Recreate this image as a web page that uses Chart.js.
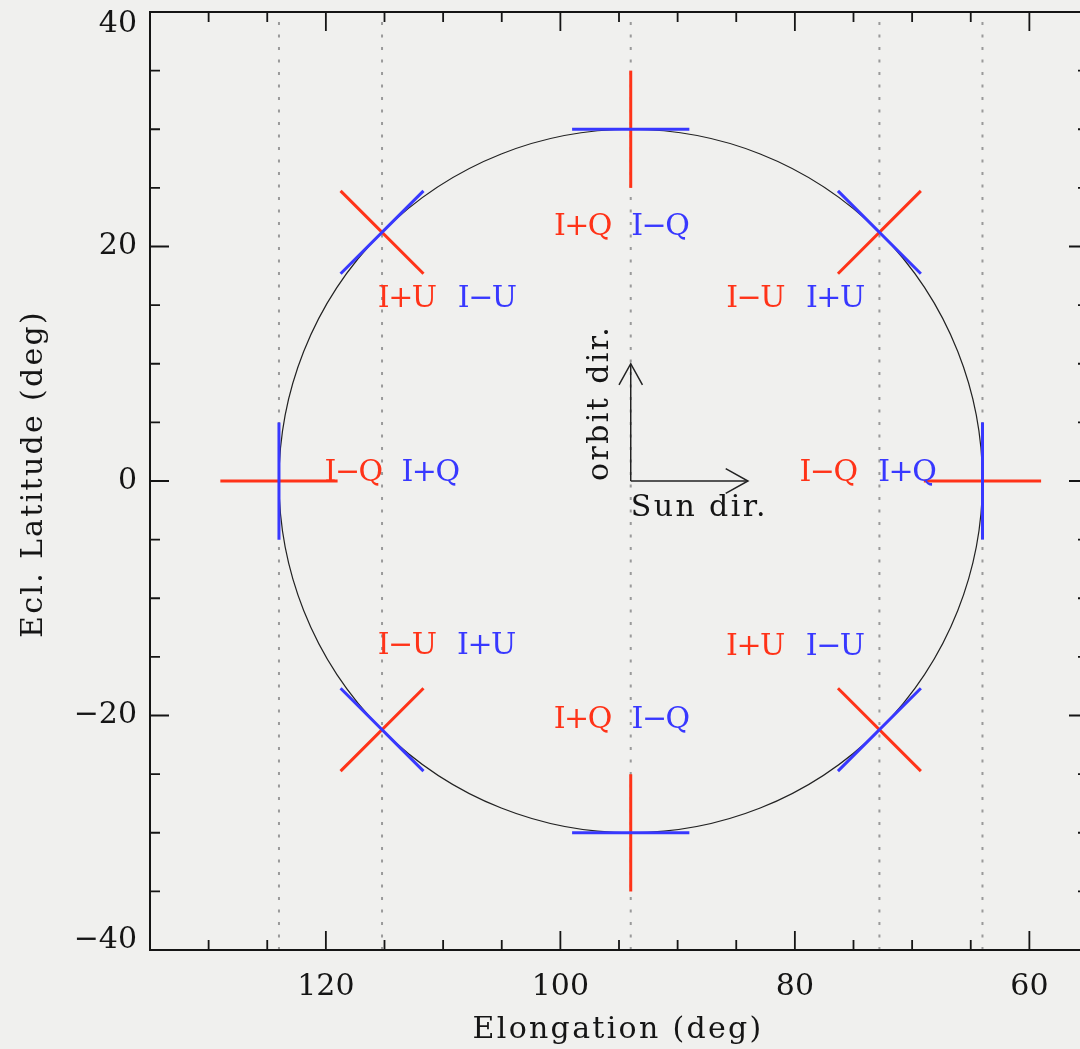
<!DOCTYPE html>
<html>
<head>
<meta charset="utf-8">
<script src="https://cdn.jsdelivr.net/npm/chart.js@4.4.1/dist/chart.umd.min.js"></script>
<style>
  html, body { margin: 0; padding: 0; background: #f0f0ee; overflow: hidden; }
  #wrap { width: 1100px; height: 1049px; }
</style>
</head>
<body>
<div id="wrap"><canvas id="c" width="1100" height="1049"></canvas></div>
<script>
// Orbit circle (elongation, ecliptic latitude), degrees
const circleCenter = [94, 0];
const circleRadius = 30;

// Polarizer marks placed on the circle: top, upper-left, left, lower-left,
// bottom, lower-right, right, upper-right
const markElong = [94, 115.21, 124, 115.21, 94, 72.79, 64, 72.79];
const markLat = [30, 21.21, 0, -21.21, -30, -21.21, 0, 21.21];
const markHalfLength = 5;

// Dotted vertical guides
const guideElong = [124, 115.21, 94, 72.79, 64];

// Stokes labels next to each mark (same order as the marks)
const redLabels = ['I+Q', 'I+U', 'I−Q', 'I−U', 'I+Q', 'I+U', 'I−Q', 'I−U'];
const blueLabels = ['I−Q', 'I−U', 'I+Q', 'I+U', 'I−Q', 'I−U', 'I+Q', 'I+U'];
const redLabelElong = [98.12, 113.11, 117.68, 113.12, 98.13, 83.40, 77.17, 83.39];
const blueLabelElong = [91.52, 106.28, 111.12, 106.35, 91.49, 76.60, 70.46, 76.59];
const labelLat = [21.0, 14.85, 0, -14.79, -21.04, -14.8, 0, 14.85];

// Direction arrows
const orbitArrowX = [94, 94];
const orbitArrowY = [0, 10];
const orbitHeadX = [93, 94, 95];
const orbitHeadY = [8.2, 10, 8.2];
const sunArrowX = [94, 84];
const sunArrowY = [0, 0];
const sunHeadX = [85.9, 84, 85.9];
const sunHeadY = [1.05, 0, -1.05];
const orbitTextPos = [95.9, 0];
const sunTextPos = [94, -3.0];

// Axes
const xRange = [55, 135];
const yRange = [-40, 40];
const xTickValues = [120, 100, 80, 60];
const yTickValues = [40, 20, 0, -20, -40];
const minorStep = 5;

const RED = '#ff3318';
const BLUE = '#3838ff';
const INK = '#151515';
const SERIF = '"DejaVu Serif", serif';

function pts(xs, ys) { return xs.map((x, i) => ({ x: x, y: ys[i] })); }

function segment(data, color, width, order, dash) {
  return {
    data: data, showLine: true, borderColor: color, borderWidth: width,
    borderDash: dash || [], pointRadius: 0, pointHoverRadius: 0, fill: false,
    tension: 0, order: order, borderCapStyle: 'butt'
  };
}

const datasets = [];
// blue tangent and red radial strokes of each mark
markElong.forEach((ex, i) => {
  const ux = (ex - circleCenter[0]) / circleRadius;
  const uy = (markLat[i] - circleCenter[1]) / circleRadius;
  const h = markHalfLength;
  datasets.push(segment([
    { x: ex - uy * h, y: markLat[i] + ux * h },
    { x: ex + uy * h, y: markLat[i] - ux * h }
  ], BLUE, 3, 1));
  datasets.push(segment([
    { x: ex - ux * h, y: markLat[i] - uy * h },
    { x: ex + ux * h, y: markLat[i] + uy * h }
  ], RED, 3, 2));
});
// arrows
datasets.push(segment(pts(orbitArrowX, orbitArrowY), '#222', 1.5, 3));
datasets.push(segment(pts(orbitHeadX, orbitHeadY), '#222', 1.5, 3));
datasets.push(segment(pts(sunArrowX, sunArrowY), '#222', 1.5, 3));
datasets.push(segment(pts(sunHeadX, sunHeadY), '#222', 1.5, 3));
// dotted guides
guideElong.forEach(g => {
  datasets.push(segment([{ x: g, y: yRange[0] }, { x: g, y: yRange[1] }], '#9a9a9a', 2, 6, [3, 9.5]));
});

function fmtTick(v) {
  return (v < 0 ? '−' : '') + Math.abs(v);
}

const backgroundPlugin = {
  id: 'paper',
  beforeDraw(chart) {
    const ctx = chart.ctx;
    ctx.save();
    ctx.fillStyle = '#f0f0ee';
    ctx.fillRect(0, 0, chart.width, chart.height);
    ctx.restore();
  }
};

const circlePlugin = {
  id: 'orbitCircle',
  beforeDatasetsDraw(chart) {
    const { ctx, scales: { x, y } } = chart;
    const cx = x.getPixelForValue(circleCenter[0]);
    const cy = y.getPixelForValue(circleCenter[1]);
    const rx = Math.abs(x.getPixelForValue(circleCenter[0] + circleRadius) - cx);
    const ry = Math.abs(y.getPixelForValue(circleCenter[1] + circleRadius) - cy);
    ctx.save();
    ctx.strokeStyle = '#222';
    ctx.lineWidth = 1.2;
    ctx.beginPath();
    ctx.ellipse(cx, cy, rx, ry, 0, 0, Math.PI * 2);
    ctx.stroke();
    ctx.restore();
  }
};

const textPlugin = {
  id: 'annotations',
  afterDatasetsDraw(chart) {
    const { ctx, scales: { x, y } } = chart;
    ctx.save();
    ctx.font = '30px ' + SERIF;
    ctx.textBaseline = 'alphabetic';
    ctx.textAlign = 'center';
    ctx.letterSpacing = '-1.5px';
    redLabels.forEach((t, i) => {
      ctx.fillStyle = RED;
      ctx.fillText(t, x.getPixelForValue(redLabelElong[i]), y.getPixelForValue(labelLat[i]));
      ctx.fillStyle = BLUE;
      ctx.fillText(blueLabels[i], x.getPixelForValue(blueLabelElong[i]), y.getPixelForValue(labelLat[i]));
    });
    ctx.letterSpacing = '2.4px';
    ctx.fillStyle = INK;
    ctx.textAlign = 'left';
    ctx.fillText('Sun dir.', x.getPixelForValue(sunTextPos[0]), y.getPixelForValue(sunTextPos[1]));
    ctx.translate(x.getPixelForValue(orbitTextPos[0]), y.getPixelForValue(orbitTextPos[1]));
    ctx.rotate(-Math.PI / 2);
    ctx.fillText('orbit dir.', 0, 0);
    ctx.restore();
  },
  afterDraw(chart) {
    const { ctx, chartArea: a, scales: { x, y } } = chart;
    ctx.save();
    // frame
    ctx.strokeStyle = INK;
    ctx.lineWidth = 2;
    ctx.strokeRect(a.left, a.top, a.right - a.left, a.bottom - a.top);
    // inward ticks on all four sides
    ctx.lineWidth = 1.8;
    ctx.beginPath();
    for (let v = Math.ceil(xRange[0] / minorStep) * minorStep; v <= xRange[1]; v += minorStep) {
      if (v === xRange[0] || v === xRange[1]) continue;
      const len = xTickValues.includes(v) ? 19 : 10;
      const px = x.getPixelForValue(v);
      ctx.moveTo(px, a.bottom); ctx.lineTo(px, a.bottom - len);
      ctx.moveTo(px, a.top); ctx.lineTo(px, a.top + len);
    }
    for (let v = Math.ceil(yRange[0] / minorStep) * minorStep; v <= yRange[1]; v += minorStep) {
      if (v === yRange[0] || v === yRange[1]) continue;
      const len = yTickValues.includes(v) ? 19 : 10;
      const py = y.getPixelForValue(v);
      ctx.moveTo(a.left, py); ctx.lineTo(a.left + len, py);
      ctx.moveTo(a.right, py); ctx.lineTo(a.right - len, py);
    }
    ctx.stroke();
    // axis titles
    ctx.fillStyle = INK;
    ctx.font = '30px ' + SERIF;
    ctx.letterSpacing = '2.3px';
    ctx.textAlign = 'center';
    ctx.textBaseline = 'alphabetic';
    ctx.fillText('Elongation (deg)', 618, 1038);
    ctx.translate(42, 474);
    ctx.rotate(-Math.PI / 2);
    ctx.fillText('Ecl. Latitude (deg)', 0, 0);
    ctx.restore();
  }
};

const tickFont = (c) => {
  const v = c.tick ? c.tick.value : null;
  let lh = 1.2;
  if (v === 40) lh = '24px';
  if (v === -40) lh = '20px';
  return { family: SERIF, size: 30, lineHeight: lh };
};

new Chart(document.getElementById('c'), {
  type: 'scatter',
  data: { datasets: datasets },
  plugins: [backgroundPlugin, circlePlugin, textPlugin],
  options: {
    responsive: false,
    animation: false,
    devicePixelRatio: 1,
    layout: { padding: { top: 12, right: 12, left: 0, bottom: 0 } },
    plugins: { legend: { display: false }, tooltip: { enabled: false } },
    events: [],
    scales: {
      x: {
        type: 'linear', position: 'bottom', min: xRange[0], max: xRange[1], reverse: true,
        grid: { display: false, drawTicks: false },
        border: { display: false },
        ticks: {
          autoSkip: false, maxRotation: 0, padding: 19, color: INK,
          font: tickFont,
          callback: (v) => fmtTick(v)
        },
        afterBuildTicks: (s) => { s.ticks = xTickValues.map(v => ({ value: v })); },
        afterFit: (s) => { s.height = 99; s.paddingLeft = 0; s.paddingRight = 0; }
      },
      y: {
        type: 'linear', position: 'left', min: yRange[0], max: yRange[1],
        grid: { display: false, drawTicks: false },
        border: { display: false },
        ticks: {
          autoSkip: false, padding: 13, color: INK,
          font: tickFont,
          callback: (v) => {
            const s = fmtTick(v);
            if (v === 40) return ['', s];
            if (v === -40) return [s, ''];
            return s;
          }
        },
        afterBuildTicks: (s) => { s.ticks = yTickValues.map(v => ({ value: v })); },
        afterFit: (s) => { s.width = 150; s.paddingTop = 0; s.paddingBottom = 0; }
      }
    }
  }
});
</script>
</body>
</html>
